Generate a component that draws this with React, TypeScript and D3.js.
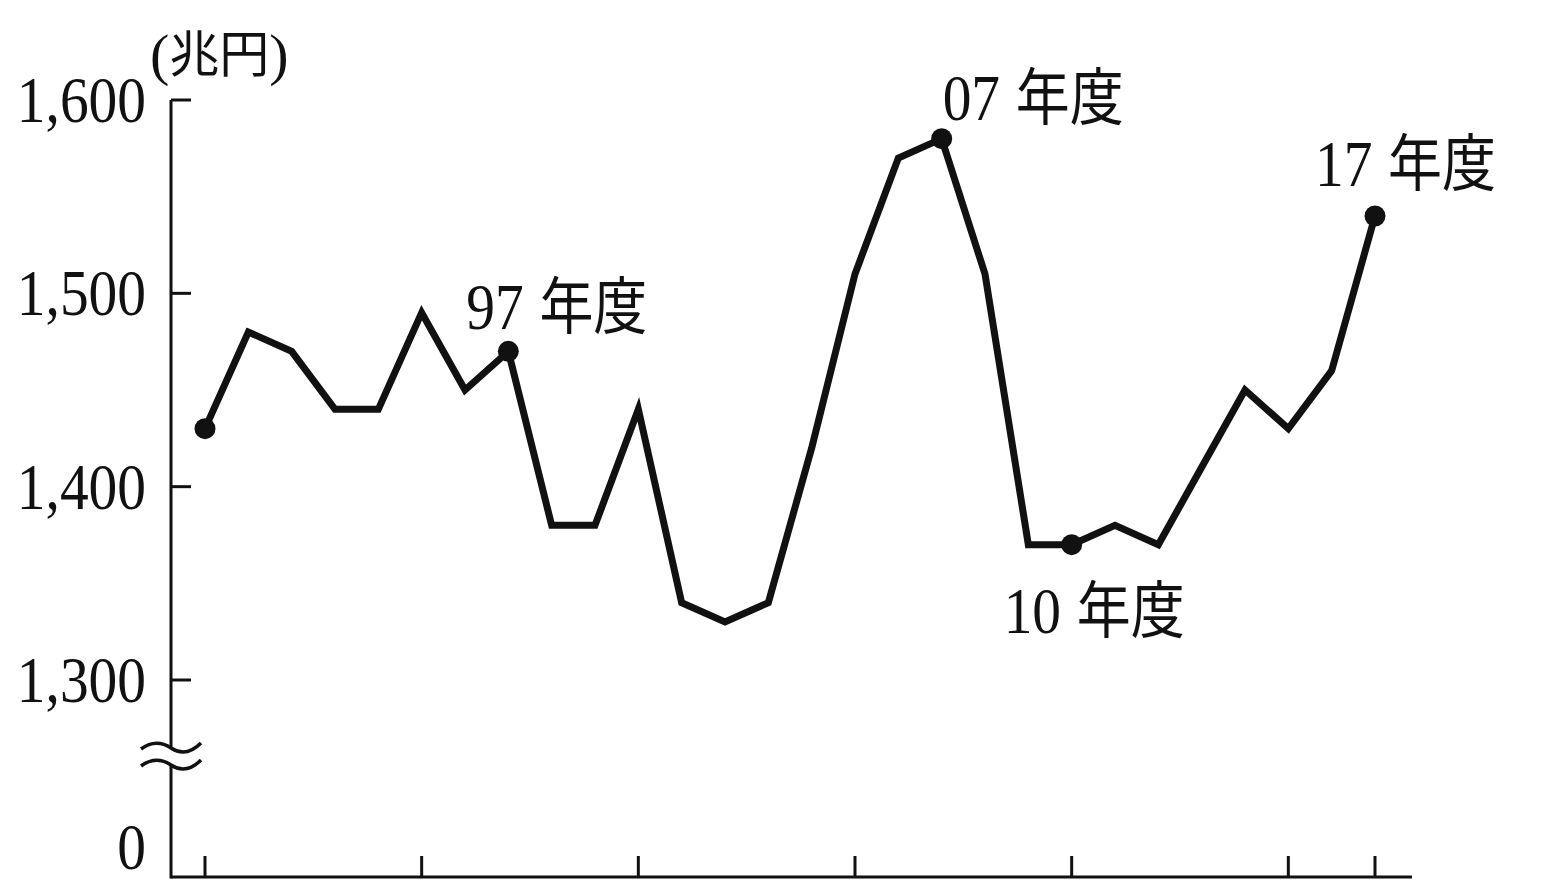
import * as d3 from "d3";
import { useRef, useEffect } from "react";

// fiscal years and totals (兆円)
const years = [
  1990, 1991, 1992, 1993, 1994, 1995, 1996, 1997, 1998, 1999, 2000, 2001, 2002, 2003,
  2004, 2005, 2006, 2007, 2008, 2009, 2010, 2011, 2012, 2013, 2014, 2015, 2016, 2017,
];
const values = [
  1430, 1480, 1470, 1440, 1440, 1490, 1450, 1470, 1380, 1380, 1440, 1340, 1330, 1340,
  1420, 1510, 1570, 1580, 1510, 1370, 1370, 1380, 1370, 1410, 1450, 1430, 1460, 1540,
];
const yTicks = [1300, 1400, 1500, 1600];
const yTickLabels = ["1,300", "1,400", "1,500", "1,600"];
const xTicks = [1990, 1995, 2000, 2005, 2010, 2015, 2017];
const markedYears = [1990, 1997, 2007, 2010, 2017];
const annotations = [
  { year: 1997, label: "97", dx: -42, dy: -22 },
  { year: 2007, label: "07", dx: 1, dy: -19 },
  { year: 2010, label: "10", dx: -68, dy: 88 },
  { year: 2017, label: "17", dx: -60, dy: -30 },
];

const serif = "'Liberation Serif', 'DejaVu Serif', serif";
const cjk = "'Noto Sans CJK JP', sans-serif";

export default function App() {
  const width = 1555;
  const height = 884;
  const axisX = 171;
  const axisY = 877;
  const ref = useRef(null);

  useEffect((): void => {
    if (!ref.current) return;
    const svg = d3.select(ref.current);
    svg.selectAll("*").remove();

    const x = d3.scaleLinear().domain([1990, 2017]).range([205, 1375]);
    const y = d3.scaleLinear().domain([1300, 1600]).range([680, 100]);

    // axes
    const axes = svg.append("g").attr("stroke", "#111").attr("stroke-width", 3).attr("fill", "none");
    axes.append("line").attr("x1", axisX).attr("x2", axisX).attr("y1", y(1600)).attr("y2", 749);
    axes.append("line").attr("x1", axisX).attr("x2", axisX).attr("y1", 764).attr("y2", axisY + 1.5);
    axes.append("line").attr("x1", axisX).attr("x2", 1412).attr("y1", axisY).attr("y2", axisY);
    axes
      .selectAll(".yt")
      .data(yTicks)
      .join("line")
      .attr("x1", axisX)
      .attr("x2", axisX + 20)
      .attr("y1", (d) => y(d))
      .attr("y2", (d) => y(d));
    axes
      .selectAll(".xt")
      .data(xTicks)
      .join("line")
      .attr("x1", (d) => x(d))
      .attr("x2", (d) => x(d))
      .attr("y1", axisY)
      .attr("y2", axisY - 21);

    // break marks
    axes
      .selectAll(".brk")
      .data([0, 17])
      .join("path")
      .attr("stroke-width", 3.5)
      .attr("d", (o) => `M141,${749 + o} Q156,${738 + o} 171,${748 + o} T201,${743 + o}`);

    // tick labels
    const lbl = svg
      .append("g")
      .attr("font-family", serif)
      .attr("font-size", 66)
      .attr("fill", "#111")
      .attr("text-anchor", "end");
    lbl
      .selectAll("text")
      .data(yTicks)
      .join("text")
      .attr("transform", (d) => `translate(146,${y(d) + 22}) scale(0.87,1)`)
      .text((_, i) => yTickLabels[i]);
    lbl
      .append("text")
      .attr("transform", `translate(146,${869}) scale(0.87,1)`)
      .text("0");

    // unit
    const unit = svg
      .append("text")
      .attr("transform", "translate(150,74)")
      .attr("fill", "#111");
    unit.append("tspan").attr("font-family", serif).attr("font-size", 58).text("(");
    unit.append("tspan").attr("font-family", cjk).attr("font-size", 50).attr("dy", -2).text("兆円");
    unit.append("tspan").attr("font-family", serif).attr("font-size", 58).attr("dy", 2).text(")");

    // line
    const line = d3
      .line<number>()
      .x((_, i) => x(years[i]))
      .y((d) => y(d));
    svg
      .append("path")
      .datum(values)
      .attr("d", line)
      .attr("fill", "none")
      .attr("stroke", "#111")
      .attr("stroke-width", 7)
      .attr("stroke-linejoin", "miter");

    svg
      .append("g")
      .selectAll("circle")
      .data(markedYears)
      .join("circle")
      .attr("cx", (d) => x(d))
      .attr("cy", (d) => y(values[years.indexOf(d)]))
      .attr("r", 10.5)
      .attr("fill", "#111");

    // annotations
    const ann = svg
      .append("g")
      .attr("fill", "#111")
      .selectAll("text")
      .data(annotations)
      .join("text")
      .attr(
        "transform",
        (d) => `translate(${x(d.year) + d.dx},${y(values[years.indexOf(d.year)]) + d.dy}) scale(0.87,1)`,
      );
    ann.append("tspan").attr("font-family", serif).attr("font-size", 66).text((d) => d.label);
    ann
      .append("tspan")
      .attr("font-family", cjk)
      .attr("font-size", 62)
      .attr("dx", 18)
      .text("年度");
  }, []);

  return (
    <svg
      ref={ref}
      width={width}
      height={height}
      style={{ position: "absolute", left: 0, top: 0, background: "#fff" }}
    />
  );
}
